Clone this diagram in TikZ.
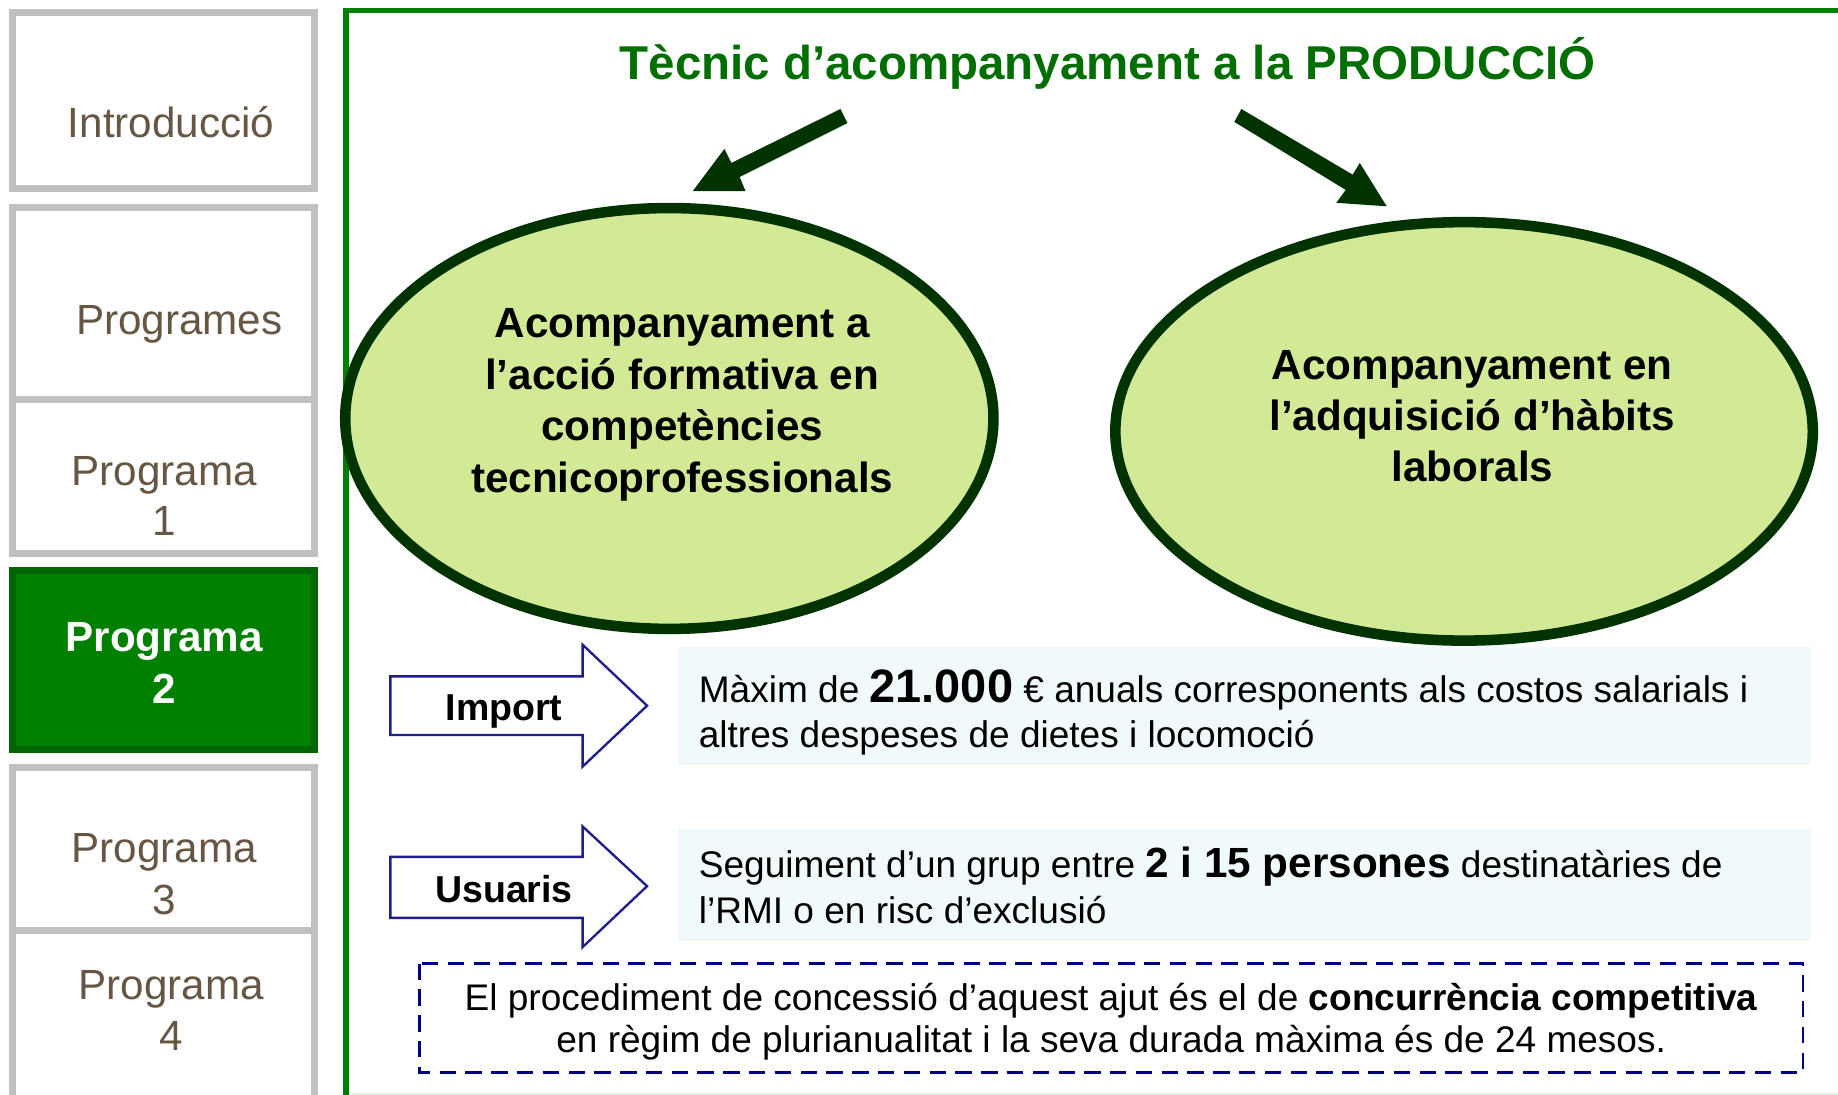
\documentclass[tikz,border=0pt]{standalone}
\usepackage{fontspec}
\setmainfont{Liberation Sans}
\usetikzlibrary{shapes.geometric}
\definecolor{sidegray}{RGB}{192,192,192}
\definecolor{sidetext}{RGB}{102,86,68}
\definecolor{framegreen}{RGB}{0,128,0}
\definecolor{activefill}{RGB}{0,128,0}
\definecolor{activeborder}{RGB}{0,100,0}
\definecolor{titlegreen}{RGB}{0,110,0}
\definecolor{arrowgreen}{RGB}{0,51,0}
\definecolor{ellfill}{RGB}{210,234,150}
\definecolor{ellline}{RGB}{0,51,0}
\definecolor{navyline}{RGB}{30,30,140}
\definecolor{dashnavy}{RGB}{0,0,128}
\definecolor{infobg}{RGB}{241,250,250}
\definecolor{faintgreen}{RGB}{222,242,222}
\newcommand\fsz[2]{\fontsize{#1}{#2}\selectfont}
\begin{document}
\begin{tikzpicture}[x=1pt,y=-1pt,
  sidebox/.style={draw=sidegray, line width=6pt, fill=white},
  activebox/.style={draw=activeborder, line width=6pt, fill=activefill},
  sidelabel/.style={text=sidetext, font=\fsz{36}{43}, anchor=base, inner sep=0pt},
  activelabel/.style={text=white, font=\bfseries\fsz{36}{43}, anchor=base, inner sep=0pt},
  elltext/.style={font=\bfseries\fsz{36}{44}, anchor=base, inner sep=0pt},
  blockarrow/.style={draw=navyline, line width=2pt, fill=white, line join=miter},
  arrowlabel/.style={font=\bfseries\fsz{32}{38}, anchor=base, inner sep=0pt},
  bodytext/.style={font=\fsz{31.6}{40}, anchor=base west, inner sep=0pt},
  dashtext/.style={font=\fsz{31.6}{40}, anchor=base, inner sep=0pt},
  bigarrow/.style={fill=arrowgreen, draw=none},
  oval/.style={ellipse, draw=ellline, line width=9pt, fill=ellfill, inner sep=0pt}
]
\useasboundingbox (0,0) rectangle (1568,934);
\fill[white] (0,0) rectangle (1568,934);

% sidebar
\draw[sidebox] (11,11) rectangle (268,161);
\draw[sidebox] (11,177) rectangle (268,341);
\draw[sidebox] (11,341) rectangle (268,472);
\draw[activebox] (11,487) rectangle (268,639);
\draw[sidebox] (11,655) rectangle (268,794);
\draw[sidebox] (11,794) rectangle (268,960);

\node[sidelabel] (intro) at (146,117) {Introducció};
\node[sidelabel] (progs) at (153,285) {Programes};
\node[sidelabel] (p1a) at (140,414) {Programa};
\node[sidelabel] (p1b) at (140,457) {1};
\node[activelabel] (p2a) at (140,556) {Programa};
\node[activelabel] (p2b) at (140,600) {2};
\node[sidelabel] (p3a) at (140,736) {Programa};
\node[sidelabel] (p3b) at (140,780) {3};
\node[sidelabel] (p4a) at (146,853) {Programa};
\node[sidelabel] (p4b) at (146,896) {4};

% main frame
\draw[framegreen, line width=5pt] (295,960) -- (295,9) -- (1600,9);
\draw[faintgreen, line width=1.5pt] (300,933) -- (1568,933);

% title
\node[font=\bfseries\fsz{40.5}{48}, text=titlegreen, anchor=base, inner sep=0pt] (title) at (945,68) {Tècnic d’acompanyament a la PRODUCCIÓ};

% big arrows
\fill[bigarrow] (717,93) -- (624,139) -- (618,127) -- (591,163) -- (636,163) -- (631,151) -- (723,105) -- cycle;
\fill[bigarrow] (1059,93) -- (1154,149) -- (1160,139) -- (1183,176) -- (1140,173) -- (1148,162) -- (1053,104) -- cycle;

% ellipses
\node[oval, minimum width=553pt, minimum height=359pt] (e1) at (571,357) {};
\node[oval, minimum width=595pt, minimum height=357pt] (e2) at (1249,368) {};

\node[elltext] (e1a) at (582,288) {Acompanyament a};
\node[elltext] (e1b) at (582,332) {l’acció formativa en};
\node[elltext] (e1c) at (582,376) {competències};
\node[elltext] (e1d) at (582,420) {tecnicoprofessionals};

\node[elltext] (e2a) at (1256,324) {Acompanyament en};
\node[elltext] (e2b) at (1256,367) {l’adquisició d’hàbits};
\node[elltext] (e2c) at (1256,411) {laborals};

% info boxes
\fill[infobg] (578,552) rectangle (1545,653);
\fill[infobg] (578,707) rectangle (1545,803);

% block arrows
\draw[blockarrow] (333,577) -- (497,577) -- (497,550) -- (552,602) -- (497,654) -- (497,627) -- (333,627) -- cycle;
\draw[blockarrow] (333,731) -- (497,731) -- (497,705) -- (552,756) -- (497,808) -- (497,783) -- (333,783) -- cycle;
\node[arrowlabel] (imp) at (430,615) {Import};
\node[arrowlabel] (usu) at (430,770) {Usuaris};

\node[bodytext] (t1a) at (596,599) {Màxim de {\bfseries\fsz{40}{48}21.000} € anuals corresponents als costos salarials i};
\node[bodytext] (t1b) at (596,638) {altres despeses de dietes i locomoció};
\node[bodytext] (t2a) at (596,749) {Seguiment d’un grup entre {\bfseries\fsz{36}{44}2 i 15 persones} destinatàries de};
\node[bodytext] (t2b) at (596,788) {l’RMI o en risc d’exclusió};

% dashed box
\draw[dashnavy, line width=2pt, dash pattern=on 14pt off 8pt] (358,822) rectangle (1538,915);
\node[dashtext] (d1) at (948,862) {El procediment de concessió d’aquest ajut és el de \textbf{concurrència competitiva}};
\node[dashtext] (d2) at (948,898) {en règim de plurianualitat i la seva durada màxima és de 24 mesos.};
\end{tikzpicture}
\end{document}
